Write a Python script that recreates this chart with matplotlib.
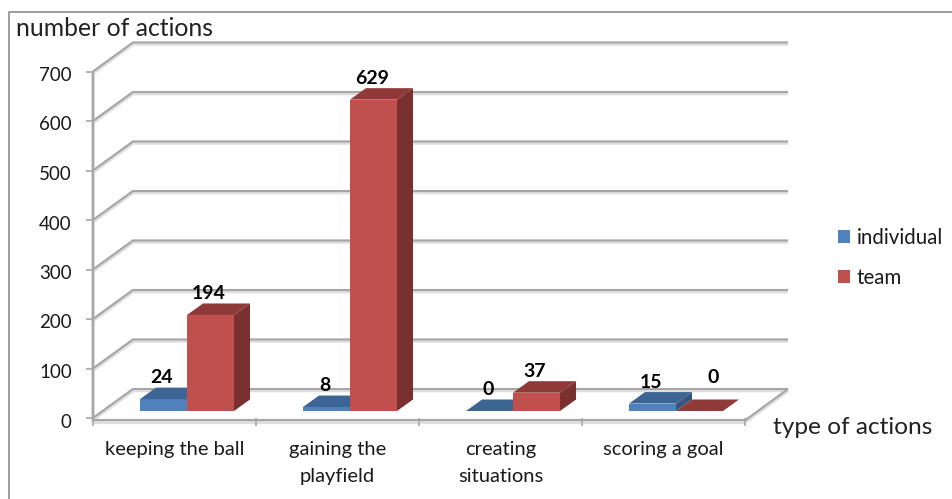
import matplotlib
matplotlib.use("Agg")
import matplotlib.pyplot as plt
from matplotlib.patches import Polygon, Patch
from matplotlib.lines import Line2D
from matplotlib.transforms import ScaledTranslation

categories = ["keeping the ball", "gaining the\nplayfield", "creating\nsituations", "scoring a goal"]
individual = [24, 8, 0, 15]
team = [194, 629, 37, 0]
y_ticks = [0, 100, 200, 300, 400, 500, 600, 700]

plt.rcParams["font.family"] = ["Lato", "DejaVu Sans"]

W, H = 953, 499
fig = plt.figure(figsize=(W / 100, H / 100), dpi=100)
# front plane of the fake 3d box, in pixels
left, right, y0, y700 = 93, 745, 418, 71.5
ax = fig.add_axes([left / W, 1 - y0 / H, (right - left) / W, (y0 - y700) / H])
ax.set_xlim(0, 4)
ax.set_ylim(0, 700)

px_x = 4 / (right - left)
px_y = 700 / (y0 - y700)

# box depth
wall_dx = 40 * px_x
wall_dy = 29 * px_y
wall_end = 4 + 43 * px_x
# bar depth and where the bar sits on the floor
bar_dx = 16 * px_x
bar_dy = 11.5 * px_y
lift = 7 * px_y
bar_w = 47 * px_x
shift = 12.5 * px_x


def grid_line(xs, ys):
    shadow = [y - 1.2 * px_y for y in ys]
    ax.plot(xs, shadow, color="#dedede", lw=3, clip_on=False, zorder=1, solid_capstyle="butt")
    ax.plot(xs, ys, color="#a6a6a6", lw=1.5, clip_on=False, zorder=1.1, solid_capstyle="butt")


for v in y_ticks:
    grid_line([0, wall_dx, wall_end], [v, v + wall_dy, v + wall_dy])
# floor right edge and front
grid_line([4, wall_end], [-5, wall_dy])
grid_line([0, 4], [-5, -5])
grid_line([0, 0], [-5, 700])


def bar3d(x, val, front, top, side, z):
    b = lift
    t = lift + val
    if val > 0:
        ax.add_patch(Polygon([(x, b), (x + bar_w, b), (x + bar_w, t), (x, t)], fc=front, ec="none", clip_on=False, zorder=z))
        ax.add_patch(Polygon([(x + bar_w, b), (x + bar_w + bar_dx, b + bar_dy), (x + bar_w + bar_dx, t + bar_dy), (x + bar_w, t)],
                             fc=side, ec="none", clip_on=False, zorder=z))
    ax.add_patch(Polygon([(x, t), (x + bar_w, t), (x + bar_w + bar_dx, t + bar_dy), (x + bar_dx, t + bar_dy)],
                         fc=top, ec="none", clip_on=False, zorder=z))


def bar_label(x, val, extra_x=0, extra_y=0):
    ax.text(x + (22 + extra_x) * px_x, lift + val + bar_dy + (10 + extra_y) * px_y, str(val), ha="center", va="center",
            fontsize=14, fontweight="bold", color="black", zorder=6)


for i in range(len(categories)):
    c = i + 0.5 + shift
    bar3d(c - bar_w, individual[i], "#4f81bd", "#3d6594", "#345680", 3)
    bar3d(c, team[i], "#c0504d", "#8f3a38", "#7a302e", 4)
    bar_label(c - bar_w, individual[i])
    # the last "0" label was dragged off its bar in the original
    if i == 3:
        bar_label(c, team[i], 15, 12)
    else:
        bar_label(c, team[i])

# axes
for s in ["top", "right", "left", "bottom"]:
    ax.spines[s].set_visible(False)
ax.patch.set_alpha(0)
ax.set_yticks(y_ticks)
ax.set_xticks([0, 1, 2, 3, 4])
ax.set_xticklabels([])
ax.set_xticks([0.5, 1.5, 2.5, 3.5], minor=True)
ax.set_xticklabels(categories, minor=True, fontsize=14.5, color="#1a1a1a", linespacing=1.7)
ax.tick_params(axis="x", which="major", length=6, color="#a6a6a6", width=1.2, direction="out", pad=0)
ax.tick_params(axis="x", which="minor", length=0, pad=16.5)
ax.tick_params(axis="y", length=5, color="#a6a6a6", width=1.2, pad=11, labelsize=13.5, labelcolor="#1a1a1a")

# value labels sit a little under their ticks in the original
nudge = ScaledTranslation(1 / 100, -2.5 / 100, fig.dpi_scale_trans)
for lab in ax.get_yticklabels():
    lab.set_transform(lab.get_transform() + nudge)

ax.set_ylabel("number of actions", rotation=0, fontsize=17.8, color="#222222", ha="left", va="center")
ax.yaxis.set_label_coords((16 - left) / (right - left), (y0 - 29) / (y0 - y700))
ax.set_xlabel("type of actions", fontsize=17.6, color="#222222", ha="left", va="center")
ax.xaxis.set_label_coords((773 - left) / (right - left), (y0 - 427) / (y0 - y700))

# legend
handles = [Patch(fc="#4f81bd", ec="none", label="individual"), Patch(fc="#c0504d", ec="none", label="team")]
fig.legend(handles=handles, loc="upper left", bbox_to_anchor=(838 / W, 1 - 228 / H), frameon=False,
           fontsize=14.8, labelcolor="#1a1a1a", handlelength=0.58, handleheight=0.58, handletextpad=0.34, labelspacing=0.95,
           borderpad=0, borderaxespad=0)

# outer chart frame
fig.add_artist(Line2D([9 / W, 9 / W, 1], [0, 1 - 12 / H, 1 - 12 / H], transform=fig.transFigure, color="#8c8c8c", lw=1.2))

fig.savefig("out.png", dpi=100)
